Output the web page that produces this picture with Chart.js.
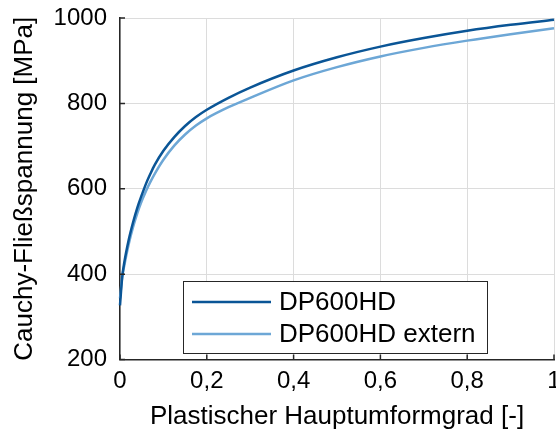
<!DOCTYPE html>
<html>
<head>
<meta charset="utf-8">
<script src="https://cdn.jsdelivr.net/npm/chart.js@4/dist/chart.umd.min.js"></script>
<style>
  html, body { margin: 0; padding: 0; background: #fff; }
  #wrap { width: 556px; height: 438px; }
</style>
</head>
<body>
<div id="wrap"><canvas id="c" width="556" height="438"></canvas></div>
<script>
// ---- data ----
const seriesLabels = ['DP600HD', 'DP600HD extern'];
const strainDP600 = [0, 0.005, 0.01, 0.02, 0.03, 0.04, 0.05, 0.06, 0.07, 0.08, 0.1, 0.125, 0.15, 0.175, 0.2, 0.25, 0.3, 0.4, 0.5, 0.6, 0.7, 0.8, 0.9, 1.0];
const stressDP600 = [327, 392, 428, 480, 521, 556, 585, 612, 635, 656, 689, 721, 747, 768, 785, 813, 837, 877, 908, 933, 953, 970, 984, 996];
const strainExtern = [0, 0.005, 0.01, 0.02, 0.03, 0.04, 0.05, 0.06, 0.07, 0.08, 0.1, 0.125, 0.15, 0.175, 0.2, 0.25, 0.3, 0.4, 0.5, 0.6, 0.7, 0.8, 0.9, 1.0];
const stressExtern = [343, 393, 421, 470, 510, 543, 571, 595, 616, 635, 668, 701, 727, 748, 765, 791, 813, 854, 885, 910, 930, 947, 962, 976];
const xTicks = [0, 0.2, 0.4, 0.6, 0.8, 1];
const yTicks = [200, 400, 600, 800, 1000];
const xTitle = 'Plastischer Hauptumformgrad [-]';
const yTitle = 'Cauchy-Fließspannung [MPa]';

const FONT = '"Liberation Sans", Arial, Helvetica, sans-serif';
const TXT = '#000000';
const AX = '#262626';
const colors = ['#0a5596', '#6da7d6'];

const toPts = (xs, ys) => xs.map((x, i) => ({x, y: ys[i]}));
const fmt = v => String(Math.round(v * 10) / 10).replace('.', ',');

const inwardTicks = {
  id: 'inwardTicks',
  afterDraw(chart) {
    const {ctx, chartArea: a, scales: {x, y}} = chart;
    ctx.save();
    ctx.strokeStyle = AX;
    ctx.lineWidth = 1.5;
    ctx.beginPath();
    xTicks.forEach(v => { const px = x.getPixelForValue(v); ctx.moveTo(px, a.bottom); ctx.lineTo(px, a.bottom - 5); });
    yTicks.forEach(v => { const py = y.getPixelForValue(v); ctx.moveTo(a.left, py); ctx.lineTo(a.left + 5, py); });
    ctx.stroke();
    ctx.restore();
  }
};

const boxLegend = {
  id: 'boxLegend',
  afterDraw(chart) {
    const {ctx} = chart;
    const bx = 183.5, by = 281.5, bw = 304, bh = 72;
    ctx.save();
    ctx.fillStyle = '#ffffff';
    ctx.fillRect(bx, by, bw, bh);
    ctx.strokeStyle = AX;
    ctx.lineWidth = 1;
    ctx.strokeRect(bx, by, bw, bh);
    ctx.font = '26px ' + FONT;
    ctx.textBaseline = 'middle';
    ctx.fillStyle = TXT;
    chart.data.datasets.forEach((ds, i) => {
      const ly = 302 + i * 32;
      ctx.strokeStyle = ds.borderColor;
      ctx.lineWidth = 2.5;
      ctx.beginPath();
      ctx.moveTo(192, ly);
      ctx.lineTo(271, ly);
      ctx.stroke();
      ctx.fillText(ds.label, 279, ly + 1);
    });
    ctx.restore();
  }
};

new Chart(document.getElementById('c'), {
  type: 'scatter',
  data: {
    datasets: [
      { label: seriesLabels[0], data: toPts(strainDP600, stressDP600), borderColor: colors[0], backgroundColor: colors[0] },
      { label: seriesLabels[1], data: toPts(strainExtern, stressExtern), borderColor: colors[1], backgroundColor: colors[1] }
    ].map(d => Object.assign(d, { showLine: true, pointRadius: 0, borderWidth: 2.5, cubicInterpolationMode: 'monotone', clip: false }))
  },
  options: {
    responsive: false,
    animation: false,
    events: [],
    layout: { padding: { top: 18, right: 2, left: 0, bottom: 0 } },
    plugins: { legend: { display: false }, tooltip: { enabled: false } },
    scales: {
      x: {
        type: 'linear', min: 0, max: 1,
        afterBuildTicks: s => { s.ticks = xTicks.map(v => ({value: v})); },
        afterFit: s => { s.height = 78.5; s.paddingLeft = 0; s.paddingRight = 0; },
        ticks: { callback: v => fmt(v), font: { family: FONT, size: 24 }, color: TXT, padding: 7, maxRotation: 0, autoSkip: false },
        grid: { color: '#dcdcdc', lineWidth: 1, drawTicks: false },
        border: { color: AX, width: 1.5 },
        title: { display: true, text: xTitle, font: { family: FONT, size: 26 }, color: TXT, padding: { top: 0, bottom: 6 } }
      },
      y: {
        type: 'linear', min: 200, max: 1000,
        afterBuildTicks: s => { s.ticks = yTicks.map(v => ({value: v})); },
        afterFit: s => { s.width = 120; s.paddingTop = 0; s.paddingBottom = 0; },
        ticks: { callback: v => String(v), font: { family: FONT, size: 24 }, color: TXT, padding: 13 },
        grid: { color: '#dcdcdc', lineWidth: 1, drawTicks: false },
        border: { color: AX, width: 1.5 },
        title: { display: true, text: yTitle, font: { family: FONT, size: 26 }, color: TXT, padding: { top: 9, bottom: 0 } }
      }
    }
  },
  plugins: [inwardTicks, boxLegend]
});
</script>
</body>
</html>
